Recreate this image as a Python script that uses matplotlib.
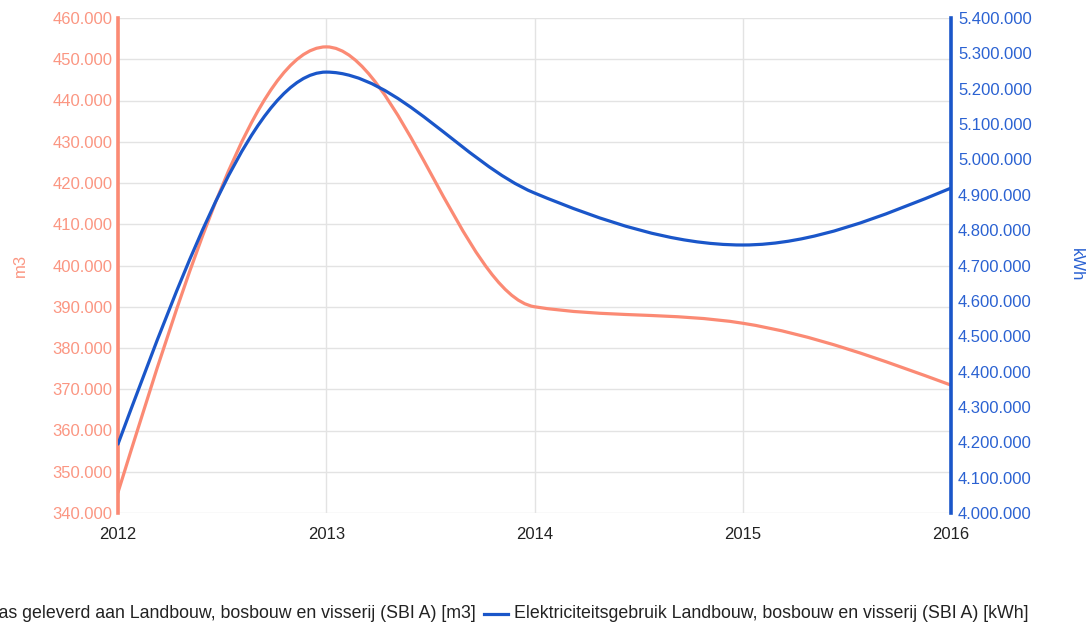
import numpy as np
import matplotlib.pyplot as plt
from matplotlib.path import Path
from matplotlib.patches import PathPatch
from matplotlib.lines import Line2D
from matplotlib.ticker import FuncFormatter

plt.rcParams['font.family'] = ['Liberation Sans', 'DejaVu Sans']

years = [2012, 2013, 2014, 2015, 2016]
gas_m3 = [345000, 453000, 390000, 386000, 371000]
stroom_kwh = [4195000, 5247000, 4905000, 4758000, 4919000]

gas_label = 'Aardgas geleverd aan Landbouw, bosbouw en visserij (SBI A) [m3]'
stroom_label = 'Elektriciteitsgebruik Landbouw, bosbouw en visserij (SBI A) [kWh]'

ORANJE = '#fb8a74'
ORANJE_TXT = '#fb9682'
BLAUW = '#1a56c9'
BLAUW_TXT = '#2b62d2'
GRID = '#e3e3e3'
FS = 12


def monotone_path(x, y):
    # monotone cubic (zoals d3.curveMonotoneX), als bezier-pad
    x = np.asarray(x, float)
    y = np.asarray(y, float)
    h = np.diff(x)
    s = np.diff(y) / h
    n = len(x)
    m = np.zeros(n)
    for i in range(1, n - 1):
        p = (s[i - 1] * h[i] + s[i] * h[i - 1]) / (h[i - 1] + h[i])
        m[i] = (np.sign(s[i - 1]) + np.sign(s[i])) * min(abs(s[i - 1]), abs(s[i]), 0.5 * abs(p))
    m[0] = (3 * s[0] - m[1]) / 2
    m[-1] = (3 * s[-1] - m[-2]) / 2
    verts = [(x[0], y[0])]
    codes = [Path.MOVETO]
    for i in range(n - 1):
        d = h[i] / 3
        verts += [(x[i] + d, y[i] + m[i] * d), (x[i + 1] - d, y[i + 1] - m[i + 1] * d), (x[i + 1], y[i + 1])]
        codes += [Path.CURVE4] * 3
    return Path(verts, codes)


def punt(v, pos=None):
    return f'{int(round(v)):,}'.replace(',', '.')


fig = plt.figure(figsize=(10.89, 6.27), dpi=100)
ax = fig.add_axes([118 / 1089, 1 - 513 / 627, (951 - 118) / 1089, (513 - 18) / 627])
ax2 = ax.twinx()

ax.set_xlim(2012, 2016)
ax.set_ylim(340000, 460000)
ax2.set_ylim(4000000, 5400000)
ax.set_xticks(years)
ax.set_xticklabels([str(j) for j in years])
ax.set_yticks(np.arange(340000, 460001, 10000))
ax2.set_yticks(np.arange(4000000, 5400001, 100000))
ax.yaxis.set_major_formatter(FuncFormatter(punt))
ax2.yaxis.set_major_formatter(FuncFormatter(punt))

ax.grid(True, color=GRID, linewidth=1)
ax.set_axisbelow(True)
for a in (ax, ax2):
    a.spines['top'].set_visible(False)
    a.spines['bottom'].set_visible(False)
ax.spines['right'].set_visible(False)
ax2.spines['left'].set_visible(False)
ax.spines['left'].set_color(ORANJE)
ax.spines['left'].set_linewidth(2.6)
ax2.spines['right'].set_color(BLAUW)
ax2.spines['right'].set_linewidth(2.6)

ax.tick_params(axis='x', length=0, pad=10, labelsize=FS, labelcolor='#222222')
ax.tick_params(axis='y', length=0, pad=4, labelsize=FS, labelcolor=ORANJE_TXT)
ax2.tick_params(axis='y', length=0, pad=5, labelsize=FS, labelcolor=BLAUW_TXT)

# aslabels
fig.text(20 / 1089, 1 - 265 / 627, 'm3', color=ORANJE_TXT, fontsize=FS,
         rotation=90, ha='center', va='center')
fig.text(1076 / 1089, 1 - 265 / 627, 'kWh', color=BLAUW_TXT, fontsize=FS,
         rotation=-90, ha='center', va='center')

ax.add_patch(PathPatch(monotone_path(years, gas_m3), fill=False, edgecolor=ORANJE,
                       linewidth=2.3, capstyle='round', joinstyle='round', zorder=3))
ax2.add_patch(PathPatch(monotone_path(years, stroom_kwh), fill=False, edgecolor=BLAUW,
                        linewidth=2.3, capstyle='round', joinstyle='round', zorder=3))

# legenda onderaan, loopt links buiten beeld
ly = 1 - 614 / 627
LFS = 12.8
fig.add_artist(Line2D([-60 / 1089, -36 / 1089], [ly, ly], color=ORANJE, linewidth=2.3))
fig.text(476 / 1089, ly, gas_label, ha='right', va='center', fontsize=LFS, color='#222222')
fig.add_artist(Line2D([484 / 1089, 508 / 1089], [ly, ly], color=BLAUW, linewidth=2.3))
fig.text(514 / 1089, ly, stroom_label, ha='left', va='center', fontsize=LFS, color='#222222')

fig.savefig('out.png', dpi=100)
